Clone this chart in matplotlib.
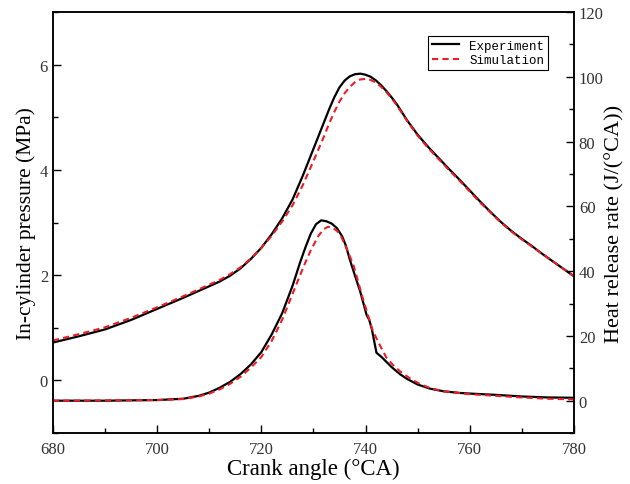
import matplotlib.pyplot as plt
from matplotlib.ticker import MultipleLocator

plt.rcParams['font.family'] = ['Liberation Serif', 'DejaVu Serif']

# Zylinderdruck (MPa) - Experiment
p_exp_ca = [680, 685, 690, 695, 700, 705, 710, 712, 714, 716, 718, 720, 722, 724,
            726, 728, 730, 732, 733, 734, 735, 736, 737, 738, 739, 740, 741, 742,
            743, 744, 745, 746, 748, 750, 752, 754, 756, 758, 760, 762, 764, 766,
            768, 770, 772, 774, 776, 778, 780]
p_exp = [0.72, 0.84, 0.97, 1.15, 1.36, 1.57, 1.79, 1.88, 1.99, 2.13, 2.31, 2.52,
         2.78, 3.08, 3.44, 3.90, 4.40, 4.90, 5.15, 5.38, 5.57, 5.70, 5.78, 5.82,
         5.83, 5.81, 5.77, 5.70, 5.61, 5.50, 5.38, 5.25, 4.94, 4.67, 4.44, 4.23,
         4.02, 3.82, 3.61, 3.40, 3.20, 3.01, 2.84, 2.69, 2.55, 2.40, 2.26, 2.12,
         1.98]

# Zylinderdruck (MPa) - Simulation
p_sim_ca = [680, 685, 690, 695, 700, 705, 710, 712, 714, 716, 718, 720, 722, 724,
            726, 728, 730, 732, 733, 734, 735, 736, 737, 738, 739, 740, 741, 742,
            743, 744, 745, 746, 748, 750, 752, 754, 756, 758, 760, 762, 764, 766,
            768, 770, 772, 774, 776, 778, 780]
p_sim = [0.76, 0.88, 1.01, 1.19, 1.39, 1.60, 1.82, 1.91, 2.02, 2.15, 2.32, 2.52,
         2.75, 3.02, 3.33, 3.72, 4.17, 4.63, 4.88, 5.10, 5.30, 5.46, 5.58, 5.67,
         5.72, 5.73, 5.71, 5.66, 5.58, 5.48, 5.36, 5.23, 4.93, 4.65, 4.42, 4.21,
         4.00, 3.80, 3.59, 3.38, 3.19, 3.00, 2.83, 2.68, 2.54, 2.40, 2.26, 2.12,
         1.98]

# Heizverlauf (J/°CA) - Experiment
h_exp_ca = [680, 690, 700, 705, 708, 710, 712, 714, 716, 718, 720, 722, 724, 726,
            727.4, 728.5, 729.5, 730.5, 731.5, 732.5, 733.5, 734.5, 735.5, 736.2,
            737, 738, 739, 740.2, 740.7, 741.2, 742.1, 743, 744, 745, 746.6, 748,
            750, 752.4, 755, 758, 760, 765, 770, 775, 780]
h_exp = [0, 0, 0.2, 0.6, 1.5, 2.5, 4.0, 5.8, 8.2, 11.2, 15.0, 20.5, 27.0, 35.5,
         42.5, 47.5, 51.6, 54.5, 55.7, 55.4, 54.7, 53.3, 50.8, 48.0, 43.5, 38.5,
         33.6, 26.5, 25.0, 22.2, 14.8, 13.6, 12.0, 10.4, 8.2, 6.7, 5.0, 3.7, 2.9,
         2.4, 2.2, 1.8, 1.3, 1.0, 0.9]

# Heizverlauf (J/°CA) - Simulation
h_sim_ca = [680, 700, 705, 708, 710, 712, 714, 716, 718, 720, 722, 724, 726, 728,
            729.5, 731, 732, 732.8, 733.6, 734.5, 735.3, 736.5, 737.7, 739.5,
            741.4, 742.8, 744, 745.3, 746.6, 748.5, 750.4, 752.4, 755, 760, 765,
            770, 775, 780]
h_sim = [0, 0.2, 0.5, 1.3, 2.2, 3.5, 5.2, 7.4, 10.2, 13.5, 18.5, 25.0, 33.0, 41.0,
         46.5, 51.0, 53.0, 53.7, 53.4, 52.5, 50.8, 46.5, 41.8, 31.5, 21.5, 17.0,
         13.3, 11.0, 9.1, 6.9, 5.2, 3.9, 2.9, 2.0, 1.5, 1.0, 0.6, 0.4]

fig = plt.figure(figsize=(6.3, 4.85), dpi=100)
ax = fig.add_axes([0.084, 0.105, 0.827, 0.868])
ax2 = ax.twinx()

l1, = ax.plot(p_exp_ca, p_exp, color='black', lw=1.6, label='Experiment')
l2, = ax.plot(p_sim_ca, p_sim, color='#ee1c25', lw=1.5, ls=(0, (3, 2)), label='Simulation')
ax2.plot(h_exp_ca, h_exp, color='black', lw=1.6)
ax2.plot(h_sim_ca, h_sim, color='#ee1c25', lw=1.5, ls=(0, (3, 2)))

ax.set_xlim(680, 780)
ax.set_ylim(-1, 7)
ax2.set_ylim(-10, 120)

ax.xaxis.set_major_locator(MultipleLocator(20))
ax.xaxis.set_minor_locator(MultipleLocator(10))
ax.yaxis.set_major_locator(MultipleLocator(2))
ax.yaxis.set_minor_locator(MultipleLocator(1))
ax2.yaxis.set_major_locator(MultipleLocator(20))
ax2.yaxis.set_minor_locator(MultipleLocator(10))

for a in (ax, ax2):
    a.tick_params(which='major', direction='in', length=6, width=1, labelsize=12,
                  labelcolor='#333333')
    a.tick_params(which='minor', direction='in', length=3.5, width=1)
    for s in a.spines.values():
        s.set_linewidth(1.1)
ax.tick_params(axis='y', which='both', right=False)
ax.tick_params(axis='x', which='both', top=False, pad=6)

ax.set_xlabel('Crank angle (°CA)', fontsize=16.5, labelpad=0)
ax.set_ylabel('In-cylinder pressure (MPa)', fontsize=15.5, labelpad=3)
ax2.set_ylabel('Heat release rate (J/(°CA))', fontsize=16, labelpad=1)

leg = ax2.legend([l1, l2], ['Experiment', 'Simulation'], loc='upper right',
                 bbox_to_anchor=(0.962, 0.958), fancybox=False, edgecolor='black',
                 framealpha=1, handlelength=2.2, borderpad=0.3, labelspacing=0.2,
                 prop={'family': 'Liberation Mono', 'size': 9})
leg.get_frame().set_linewidth(0.8)

fig.savefig('out.png', dpi=100)
